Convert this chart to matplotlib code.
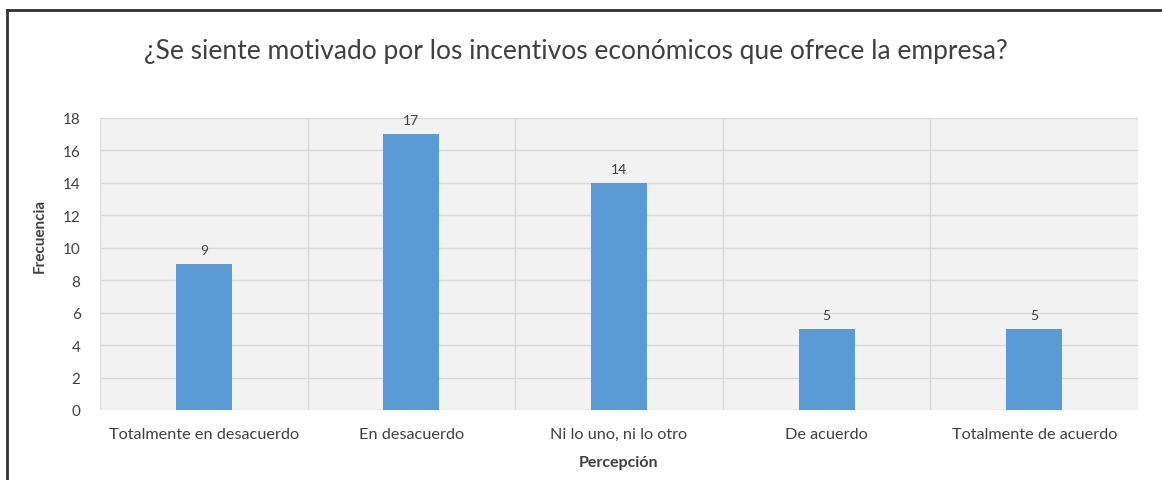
import matplotlib
matplotlib.use("Agg")
import matplotlib.pyplot as plt
from matplotlib.lines import Line2D
import numpy as np

plt.rcParams['font.family'] = ['Lato', 'DejaVu Sans']

categories = ["Totalmente en desacuerdo", "En desacuerdo", "Ni lo uno, ni lo otro",
              "De acuerdo", "Totalmente de acuerdo"]
frecuencia = [9, 17, 14, 5, 5]
yticks = [0, 2, 4, 6, 8, 10, 12, 14, 16, 18]

W, H = 1162, 481
fig = plt.figure(figsize=(W / 100, H / 100), dpi=100)
fig.patch.set_facecolor("white")

# plot area in pixels: left 100, right 1138, top 119, bottom 411
ax = fig.add_axes([100 / W, 1 - 411 / H, 1038 / W, 292 / H])
ax.set_facecolor("#f2f2f2")

x = np.arange(len(categories))
bars = ax.bar(x, frecuencia, width=0.27, color="#5b9bd5", zorder=3)

ax.set_xlim(-0.5, len(categories) - 0.5)
ax.set_ylim(0, 18)
ax.set_yticks(yticks)
ax.set_xticks(x)
ax.set_xticklabels(categories, fontsize=11.7, color="#404040")
ax.tick_params(axis="y", labelsize=11, labelcolor="#404040", length=0, pad=14)
ax.tick_params(axis="x", length=0, pad=12)

ax.yaxis.grid(True, color="#dadada", linewidth=1, zorder=0)
for b in np.arange(-0.5, len(categories), 1.0):
    ax.axvline(b, color="#dadada", linewidth=1, zorder=0)
for s in ax.spines.values():
    s.set_visible(False)

for xi, v in zip(x, frecuencia):
    ax.annotate(str(v), (xi, v), xytext=(0, 6), textcoords="offset points",
                ha="center", va="bottom", fontsize=10, color="#404040")

ax.set_xlabel("Percepción", fontsize=11.5, fontweight="bold", color="#404040", labelpad=10)
fig.text(40 / W, 1 - 236 / H, "Frecuencia", rotation=90, fontsize=11,
         fontweight="bold", color="#404040", ha="center", va="center")

fig.text(576 / W, 1 - 51 / H,
         "¿Se siente motivado por los incentivos económicos que ofrece la empresa?",
         fontsize=19, color="#404040", ha="center", va="center")

# frame lines at top and left of the picture
fig.add_artist(Line2D([7 / W, 7 / W], [0, 1 - 11 / H], transform=fig.transFigure,
                      color="#333333", linewidth=2))
fig.add_artist(Line2D([7 / W, 1], [1 - 11 / H, 1 - 11 / H], transform=fig.transFigure,
                      color="#333333", linewidth=2))

fig.savefig("out.png", dpi=100)
